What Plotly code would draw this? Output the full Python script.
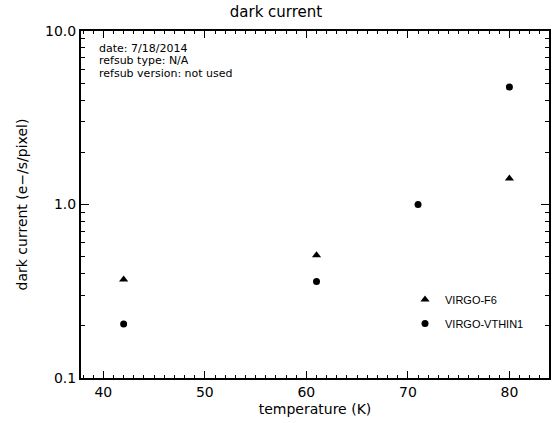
import plotly.graph_objects as go

# Data
temp_f6 = [42, 61, 80]
dc_f6 = [0.37, 0.51, 1.41]
temp_vthin = [42, 61, 71, 80]
dc_vthin = [0.205, 0.36, 1.0, 4.75]

title = "dark current"
xlabel = "temperature (K)"
ylabel = "dark current (e\u2212/s/pixel)"
info_lines = ["date: 7/18/2014", "refsub type: N/A", "refsub version: not used"]
ytick_vals = [0.1, 1.0, 10.0]
ytick_text = ["0.1", "1.0", "10.0"]
yminor_vals = [0.2, 0.3, 0.4, 0.5, 0.6, 0.7, 0.8, 0.9, 2, 3, 4, 5, 6, 7, 8, 9]
xtick_vals = [40, 50, 60, 70, 80]

W, H = 552, 423
L, T, R, B = 81, 31, 549, 378  # plot frame in pixels
ml, mt, mr, mb = L, T, W - R, H - B
pw, ph = W - ml - mr, H - mt - mb

def px_x(x):
    return (x - L) / pw

def px_y(y):
    return (B - y) / ph

fig = go.Figure()
fig.add_trace(go.Scatter(
    x=temp_f6, y=dc_f6, mode="markers", name="VIRGO-F6",
    marker=dict(symbol="triangle-up", size=8, color="black"),
    legendgroup="a"))
fig.add_trace(go.Scatter(
    x=temp_vthin, y=dc_vthin, mode="markers", name="VIRGO-VTHIN1",
    marker=dict(symbol="circle", size=7, color="black"),
    legendgroup="b"))

annotations = []
for i, line in enumerate(info_lines):
    annotations.append(dict(
        text=line, xref="paper", yref="paper",
        x=px_x(97), y=px_y(48.5 + 12.5 * i), xanchor="left", yanchor="middle",
        showarrow=False, font=dict(family="DejaVu Sans", size=11, color="black")))

fig.update_layout(
    width=W, height=H,
    margin=dict(l=ml, r=mr, t=mt, b=mb, autoexpand=False),
    paper_bgcolor="white", plot_bgcolor="white",
    title=dict(text=title, x=px_x(315), xanchor="center", y=1 - 12 / H, yanchor="middle",
               font=dict(family="DejaVu Sans", size=15, color="black")),
    font=dict(family="DejaVu Sans", size=13, color="black"),
    annotations=annotations,
    showlegend=True,
    legend=dict(x=px_x(405), y=px_y(285), xanchor="left", yanchor="top",
                font=dict(family="Liberation Sans", size=11, color="black"),
                bgcolor="rgba(0,0,0,0)", traceorder="grouped", tracegroupgap=5,
                itemwidth=30),
)

fig.update_xaxes(
    type="linear", range=[37.8, 83.9], tickvals=xtick_vals, automargin=False,
    ticks="inside", ticklen=7, tickwidth=1, tickcolor="black",
    showline=True, linecolor="black", linewidth=2, mirror="ticks",
    showgrid=False, zeroline=False,
    tickfont=dict(family="DejaVu Sans", size=14, color="black"),
    title=dict(text=xlabel, font=dict(family="DejaVu Sans", size=14, color="black"), standoff=5),
    minor=dict(dtick=1, ticks="inside", ticklen=3, tickcolor="black", showgrid=False),
)
fig.update_yaxes(
    type="log", range=[-1, 1], tickvals=ytick_vals, ticktext=ytick_text, automargin=False,
    ticks="inside", ticklen=8, tickwidth=1, tickcolor="black",
    showline=True, linecolor="black", linewidth=2, mirror="ticks",
    showgrid=False, zeroline=False,
    tickfont=dict(family="DejaVu Sans", size=14, color="black"),
    title=dict(text=ylabel, font=dict(family="DejaVu Sans", size=14, color="black"), standoff=14),
    minor=dict(tickvals=yminor_vals, ticks="inside", ticklen=4, tickcolor="black", showgrid=False),
)

fig.write_html("out.html", config={"displayModeBar": False},
               post_script="document.body.style.margin='0';")
